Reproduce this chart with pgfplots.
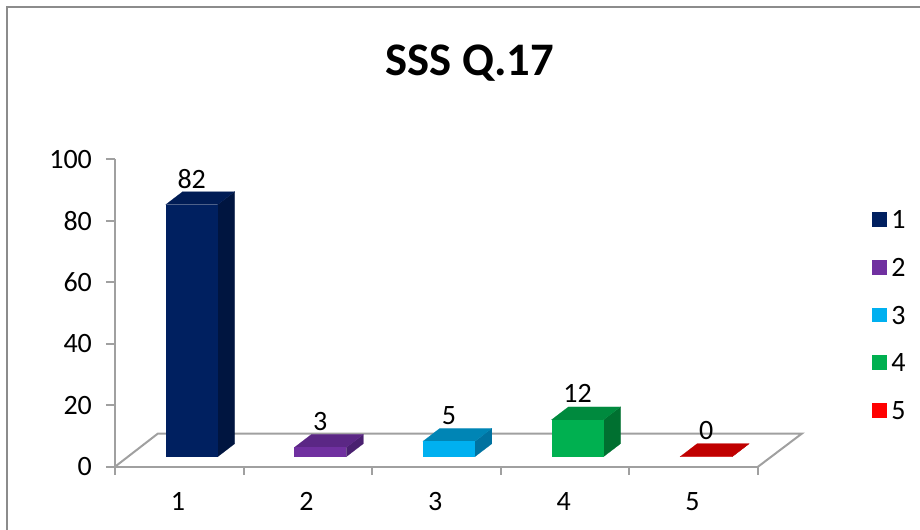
\documentclass[border=0pt]{standalone}
\usepackage{pgfplots}
\pgfplotsset{compat=1.18}
\usepackage{fontspec}
\setmainfont{Carlito}
\definecolor{axgray}{HTML}{A0A0A0}
\definecolor{framegray}{HTML}{8C8C8C}
\definecolor{cA}{HTML}{002060}\definecolor{cAt}{HTML}{001C55}\definecolor{cAs}{HTML}{001540}
\definecolor{cB}{HTML}{7030A0}\definecolor{cBt}{HTML}{5B2785}\definecolor{cBs}{HTML}{4A2070}
\definecolor{cC}{HTML}{00B0F0}\definecolor{cCt}{HTML}{0085B5}\definecolor{cCs}{HTML}{0072A0}
\definecolor{cD}{HTML}{00B050}\definecolor{cDt}{HTML}{008A3E}\definecolor{cDs}{HTML}{007030}
\definecolor{cE}{HTML}{FF0000}\definecolor{cEt}{HTML}{C00000}\definecolor{cEs}{HTML}{A00000}
% one oblique bar: category, value, front, top and side colours
\newcommand\obliquebar[5]{%
  \pgfmathsetmacro\xa{#1+0.0964-0.2022}%
  \pgfmathsetmacro\xb{#1+0.0964+0.2022}%
  \pgfmathsetmacro\xc{\xb+0.1322}%
  \pgfmathsetmacro\xd{\xa+0.1322}%
  \pgfmathsetmacro\ya{3.25}%
  \pgfmathsetmacro\yb{#2+3.25}%
  \pgfmathsetmacro\yc{\yb+4.23}%
  \pgfmathsetmacro\yd{\ya+4.23}%
  \addplot[fill=#5,draw=#5,line width=0.1pt,forget plot] coordinates {(\xb,\ya) (\xc,\yd) (\xc,\yc) (\xb,\yb)} --cycle;
  \addplot[fill=#4,draw=#4,line width=0.1pt,forget plot] coordinates {(\xa,\yb) (\xb,\yb) (\xc,\yc) (\xd,\yc)} --cycle;
  \addplot[ybar,bar width=39pt,bar shift=9.3pt,yshift=7.5pt,fill=#3,draw=none,
    nodes near coords,
    every node near coord/.append style={anchor=center,xshift=9.3pt,yshift=19.5pt,font=\fontsize{21}{24}\selectfont,text=black}]
    coordinates {(#1,#2)};
  \addlegendentry{#1}
}
\begin{document}
\begin{tikzpicture}
\useasboundingbox (0,0) rectangle (690pt,-396.75pt);
\clip (0,0) rectangle (690pt,-396.75pt);
\draw[framegray,line width=1.5pt] (5.25pt,-5.25pt) rectangle (720pt,-420pt);
\begin{axis}[
  at={(86.25pt,-350.025pt)},anchor=south west,
  x=96.45pt,y=2.3055pt,
  xmin=0.5,xmax=5.5,ymin=0,ymax=100,
  clip=false,
  axis lines*=left,
  axis line style={-,color=axgray,line width=1.5pt},
  tick style={color=axgray,line width=1.5pt},
  xtick={1,2,3,4,5},
  minor xtick={0.5,1.5,2.5,3.5,4.5,5.5},
  major x tick style={draw=none},
  minor tick length=6pt,
  major tick length=6.8pt,
  ytick={0,20,40,60,80,100},
  tick align=outside,
  ticklabel style={font=\fontsize{21}{24}\selectfont,text=black},
  /pgf/number format/assume math mode=true,
  xticklabel style={yshift=-9pt,xshift=-1pt},
  yticklabel style={xshift=-7pt},
  title={\fontsize{35}{40}\selectfont\bfseries SSS Q.17},
  title style={at={(0.552,1.2873)},anchor=center},
  legend style={draw=none,fill=none,at={(1.1765,0.4907)},anchor=west,row sep=16.75pt,
    column sep=1.5pt,font=\fontsize{21}{24}\selectfont,inner sep=0pt},
  legend cell align=left,
  legend image code/.code={\fill[#1] (0pt,-12.35pt) rectangle (11.25pt,-1.15pt);},
]
\addplot[color=axgray,line width=1.5pt,forget plot] coordinates {(0.5,0) (0.834,10.8) (5.842,10.8) (5.5,0)};
\obliquebar{1}{82}{cA}{cAt}{cAs}
\obliquebar{2}{3}{cB}{cBt}{cBs}
\obliquebar{3}{5}{cC}{cCt}{cCs}
\obliquebar{4}{12}{cD}{cDt}{cDs}
\obliquebar{5}{0}{cE}{cEt}{cEs}
\end{axis}
\end{tikzpicture}
\end{document}
